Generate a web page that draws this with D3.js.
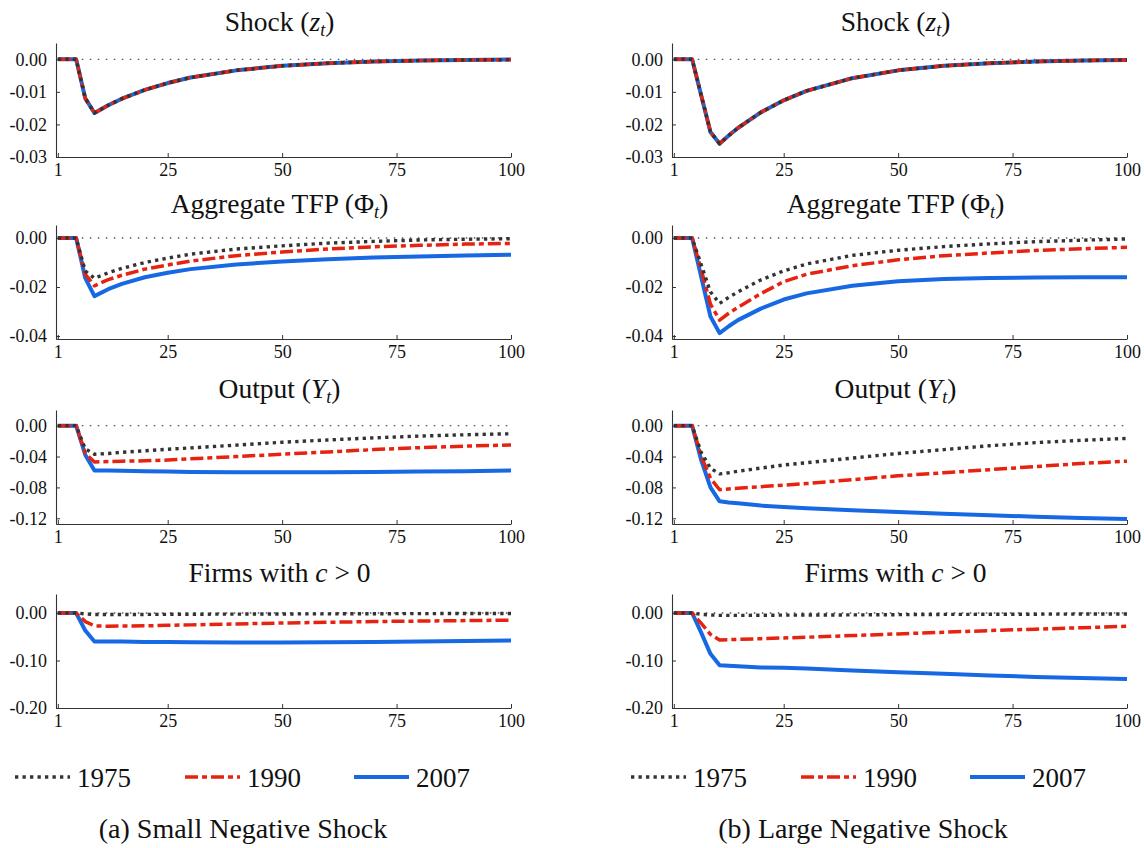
<!DOCTYPE html>
<html>
<head>
<meta charset="utf-8">
<script src="https://cdn.jsdelivr.net/npm/d3@7"></script>
<style>
  html, body { margin: 0; padding: 0; background: #fff; }
  svg { display: block; }
  text { font-family: "Liberation Serif", "Times New Roman", serif; fill: #111; }
</style>
</head>
<body>
<svg id="chart" width="1144" height="848"></svg>
<script>
// ---------------- DATA ----------------
const years = ["1975", "1990", "2007"];

// (a) Small negative shock — sampled periods
const periodsA = [1, 5, 7, 9, 12, 15, 20, 25, 30, 40, 50, 60, 70, 80, 90, 100];
const shockA     = [0, 0, -0.0120, -0.0165, -0.0141, -0.0121, -0.0094, -0.0073, -0.0056, -0.0034, -0.0020, -0.0012, -0.0007, -0.0004, -0.0002, -0.0001];
const tfpA_1975  = [0, 0, -0.0135, -0.0164, -0.0142, -0.0124, -0.0100, -0.0082, -0.0066, -0.0045, -0.0032, -0.0021, -0.0014, -0.0008, -0.0005, -0.0003];
const tfpA_1990  = [0, 0, -0.0148, -0.0195, -0.0170, -0.0152, -0.0127, -0.0110, -0.0094, -0.0072, -0.0057, -0.0045, -0.0036, -0.0030, -0.0025, -0.0022];
const tfpA_2007  = [0, 0, -0.0164, -0.0237, -0.0209, -0.0187, -0.0160, -0.0142, -0.0127, -0.0108, -0.0096, -0.0087, -0.0080, -0.0075, -0.0071, -0.0068];
const outA_1975  = [0, 0, -0.030, -0.037, -0.036, -0.0345, -0.0325, -0.0305, -0.0288, -0.0252, -0.0215, -0.0185, -0.0158, -0.0135, -0.0118, -0.0105];
const outA_1990  = [0, 0, -0.036, -0.047, -0.0465, -0.046, -0.0455, -0.0445, -0.043, -0.040, -0.037, -0.034, -0.031, -0.0285, -0.0265, -0.025];
const outA_2007  = [0, 0, -0.038, -0.058, -0.058, -0.0585, -0.059, -0.0595, -0.060, -0.0605, -0.0605, -0.0605, -0.060, -0.0595, -0.059, -0.058];
const firmA_1975 = [0, 0, -0.002, -0.003, -0.003, -0.003, -0.003, -0.0028, -0.0026, -0.0023, -0.002, -0.0018, -0.0015, -0.0013, -0.0011, -0.001];
const firmA_1990 = [0, 0, -0.018, -0.027, -0.028, -0.0275, -0.027, -0.026, -0.025, -0.023, -0.021, -0.0195, -0.018, -0.017, -0.016, -0.015];
const firmA_2007 = [0, 0, -0.037, -0.060, -0.060, -0.060, -0.061, -0.061, -0.0615, -0.062, -0.062, -0.0615, -0.061, -0.060, -0.059, -0.058];

// (b) Large negative shock — sampled periods
const periodsB = [1, 5, 7, 9, 11, 13, 15, 20, 25, 30, 40, 50, 60, 70, 80, 90, 100];
const shockB     = [0, 0, -0.0112, -0.0223, -0.0259, -0.0234, -0.0211, -0.0163, -0.0126, -0.0097, -0.0058, -0.0034, -0.0020, -0.0012, -0.0007, -0.0004, -0.0002];
const tfpB_1975  = [0, 0, -0.011, -0.022, -0.0267, -0.0242, -0.0220, -0.0171, -0.0134, -0.0106, -0.0071, -0.0050, -0.0035, -0.0024, -0.0015, -0.0009, -0.0004];
const tfpB_1990  = [0, 0, -0.013, -0.027, -0.0335, -0.0307, -0.0283, -0.0227, -0.0178, -0.0148, -0.0113, -0.0089, -0.0072, -0.0061, -0.0051, -0.0044, -0.0038];
const tfpB_2007  = [0, 0, -0.016, -0.032, -0.0388, -0.0360, -0.0335, -0.0288, -0.0251, -0.0226, -0.0195, -0.0176, -0.0167, -0.0163, -0.0161, -0.0160, -0.0160];
const outB_1975  = [0, 0, -0.035, -0.055, -0.0625, -0.061, -0.059, -0.055, -0.051, -0.048, -0.042, -0.036, -0.031, -0.026, -0.022, -0.019, -0.0165];
const outB_1990  = [0, 0, -0.040, -0.068, -0.083, -0.082, -0.081, -0.079, -0.077, -0.075, -0.070, -0.065, -0.061, -0.057, -0.053, -0.049, -0.046];
const outB_2007  = [0, 0, -0.045, -0.080, -0.098, -0.0995, -0.1005, -0.1035, -0.1055, -0.107, -0.1095, -0.112, -0.114, -0.116, -0.118, -0.1195, -0.121];
const firmB_1975 = [0, 0, -0.003, -0.004, -0.005, -0.005, -0.005, -0.0048, -0.0045, -0.0043, -0.004, -0.0035, -0.003, -0.0027, -0.0025, -0.0022, -0.002];
const firmB_1990 = [0, 0, -0.022, -0.045, -0.057, -0.056, -0.0555, -0.054, -0.0525, -0.051, -0.0475, -0.044, -0.0405, -0.037, -0.034, -0.031, -0.028];
const firmB_2007 = [0, 0, -0.042, -0.086, -0.110, -0.111, -0.112, -0.1145, -0.1155, -0.117, -0.121, -0.1245, -0.128, -0.1315, -0.1345, -0.137, -0.139];

// axis ticks
const xTicks = [1, 25, 50, 75, 100];
const yTicksShock = [0, -0.01, -0.02, -0.03];
const yTicksTfp   = [0, -0.02, -0.04];
const yTicksOut   = [0, -0.04, -0.08, -0.12];
const yTicksFirm  = [0, -0.10, -0.20];

const captions = ["(a) Small Negative Shock", "(b) Large Negative Shock"];

// ---------------- LAYOUT / STYLE ----------------
const colX = [[56, 511], [672, 1127]];
const rowY = [[43, 157], [225, 339], [410, 524], [594, 708]];
const yDomains = [[-0.03, 0.005], [-0.0412, 0.0053], [-0.1274, 0.0203], [-0.2, 0.04]];
const xDomain = [0.6, 100];

const styles = {
  "1975": { color: "#333333", width: 3.4, dash: "3.3,4.2" },
  "1990": { color: "#e62310", width: 3.5, dash: "13,4,5,4" },
  "2007": { color: "#1668e3", width: 4,   dash: null }
};

const panelsSpec = [
  { title: [["Shock (", "n"], ["z", "i"], ["t", "sub"], [")", "n"]], ticks: yTicksShock },
  { title: [["Aggregate TFP (", "n"], ["\u03A6", "n"], ["t", "sub"], [")", "n"]], ticks: yTicksTfp },
  { title: [["Output (", "n"], ["Y", "i"], ["t", "sub"], [")", "n"]], ticks: yTicksOut },
  { title: [["Firms with ", "n"], ["c", "i"], [" > 0", "n"]], ticks: yTicksFirm }
];

const columns = [
  { periods: periodsA, rows: [
      { "1975": shockA, "1990": shockA, "2007": shockA },
      { "1975": tfpA_1975, "1990": tfpA_1990, "2007": tfpA_2007 },
      { "1975": outA_1975, "1990": outA_1990, "2007": outA_2007 },
      { "1975": firmA_1975, "1990": firmA_1990, "2007": firmA_2007 } ] },
  { periods: periodsB, rows: [
      { "1975": shockB, "1990": shockB, "2007": shockB },
      { "1975": tfpB_1975, "1990": tfpB_1990, "2007": tfpB_2007 },
      { "1975": outB_1975, "1990": outB_1990, "2007": outB_2007 },
      { "1975": firmB_1975, "1990": firmB_1990, "2007": firmB_2007 } ] }
];

const fmt = d => (Math.abs(d) < 1e-9 ? "0.00" : d.toFixed(2));

// ---------------- DRAW ----------------
const svg = d3.select("#chart");

columns.forEach((col, ci) => {
  const x = d3.scaleLinear().domain(xDomain).range(colX[ci]);
  col.rows.forEach((row, ri) => {
    const spec = panelsSpec[ri];
    const y = d3.scaleLinear().domain(yDomains[ri]).range([rowY[ri][1], rowY[ri][0]]);
    const g = svg.append("g");

    // zero reference line
    g.append("line")
      .attr("x1", x(1)).attr("x2", x(100))
      .attr("y1", y(0)).attr("y2", y(0))
      .attr("stroke", "#555").attr("stroke-width", 1.3)
      .attr("stroke-dasharray", "1.5,6.5");

    // series: blue bottom, red, black dotted on top
    ["2007", "1990", "1975"].forEach(yr => {
      const vals = row[yr];
      const data = col.periods.map((t, i) => [t, vals[i]]);
      const line = d3.line().x(d => x(d[0])).y(d => y(d[1]));
      const st = styles[yr];
      g.append("path")
        .attr("d", line(data))
        .attr("fill", "none")
        .attr("stroke", st.color)
        .attr("stroke-width", st.width)
        .attr("stroke-linejoin", "round")
        .attr("stroke-dasharray", st.dash);
    });

    // axes
    const yAxis = d3.axisLeft(y).tickValues(spec.ticks).tickFormat(fmt)
      .tickSizeInner(-4).tickSizeOuter(0).tickPadding(9);
    const ya = g.append("g").attr("transform", `translate(${colX[ci][0]},0)`).call(yAxis);
    const xAxis = d3.axisBottom(x).tickValues(xTicks).tickFormat(d3.format("d"))
      .tickSizeInner(-4).tickSizeOuter(0).tickPadding(6);
    const xa = g.append("g").attr("transform", `translate(0,${rowY[ri][1]})`).call(xAxis);
    [ya, xa].forEach(a => {
      a.attr("font-family", null).attr("font-size", null);
      a.select(".domain").attr("stroke", "#333").attr("stroke-width", 1.1);
      a.selectAll(".tick line").attr("stroke", "#333");
      a.selectAll(".tick text")
        .style("font-family", '"Liberation Serif", serif')
        .style("font-size", "18px").attr("fill", "#111");
    });

    // title
    const cx = (colX[ci][0] + colX[ci][1]) / 2 - 4;
    const tt = g.append("text")
      .attr("x", cx).attr("y", rowY[ri][0] - 12)
      .attr("text-anchor", "middle")
      .style("font-size", "27.5px");
    spec.title.forEach(([s, kind]) => {
      const ts = tt.append("tspan").text(s);
      if (kind === "i") ts.style("font-style", "italic");
      if (kind === "sub") ts.style("font-style", "italic").style("font-size", "18px").attr("dy", 5);
      else if (s === ")") ts.attr("dy", -5);
    });
  });

  // legend
  const lx0 = colX[ci][0] - 41;
  const ly = 777;
  const legendOffsets = [0, 170, 339];
  years.forEach((yr, i) => {
    const st = styles[yr];
    const bx = lx0 + legendOffsets[i];
    svg.append("line")
      .attr("x1", bx).attr("x2", bx + 55)
      .attr("y1", ly).attr("y2", ly)
      .attr("stroke", st.color).attr("stroke-width", st.width)
      .attr("stroke-dasharray", st.dash);
    svg.append("text")
      .attr("x", bx + 62).attr("y", 787)
      .style("font-size", "27px")
      .text(yr);
  });

  // caption
  svg.append("text")
    .attr("x", colX[ci][0] + 187 + ci * 4).attr("y", 838)
    .attr("text-anchor", "middle")
    .style("font-size", "28px")
    .text(captions[ci]);
});
</script>
</body>
</html>
